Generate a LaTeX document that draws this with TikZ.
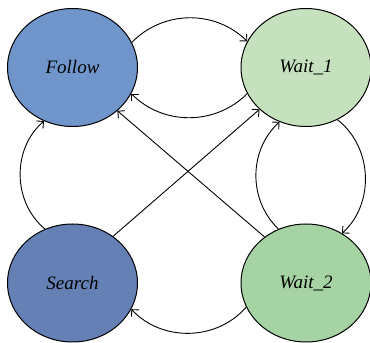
\documentclass[tikz,border=0pt]{standalone}
\usepackage{fontspec}
\setmainfont{Liberation Serif}
\usetikzlibrary{shapes.geometric,arrows.meta}
\definecolor{cfollow}{HTML}{6F95CB}
\definecolor{csearch}{HTML}{6580B5}
\definecolor{cwaita}{HTML}{C6E1BE}
\definecolor{cwaitb}{HTML}{A5D3A3}
\begin{document}
\begin{tikzpicture}[x=1pt,y=1pt,
  state/.style={ellipse,draw=black,line width=1pt,minimum width=130pt,minimum height=118pt,inner sep=0pt,font=\fontsize{19}{22}\selectfont\itshape},
  conn/.style={line width=0.9pt,-{Straight Barb[length=5pt,width=10pt,line width=0.9pt]}}]
\useasboundingbox (0,0) rectangle (370,343);
\node[state,fill=cfollow] (F) at (72.5,275.5) {Follow};
\node[state,fill=cwaita] (W1) at (306,275.5) {Wait\_1};
\node[state,fill=csearch] (S) at (72.5,60) {Search};
\node[state,fill=cwaitb] (W2) at (306,60) {Wait\_2};
\draw[conn] (F.23) to[bend left=45] (W1.156);
\draw[conn] (W1.204) to[bend left=45] (F.336);
\draw[conn] (S.117) to[bend left=50] (F.242);
\draw[conn] (W1.301) to[bend left=50] (W2.54);
\draw[conn] (W2.117) to[bend left=47] (W1.244);
\draw[conn] (W2.202) to[bend left=48] (S.336);
\draw[conn] (S.49) -- (W1.222);
\draw[conn] (W2.132) -- (F.316);
\end{tikzpicture}
\end{document}
